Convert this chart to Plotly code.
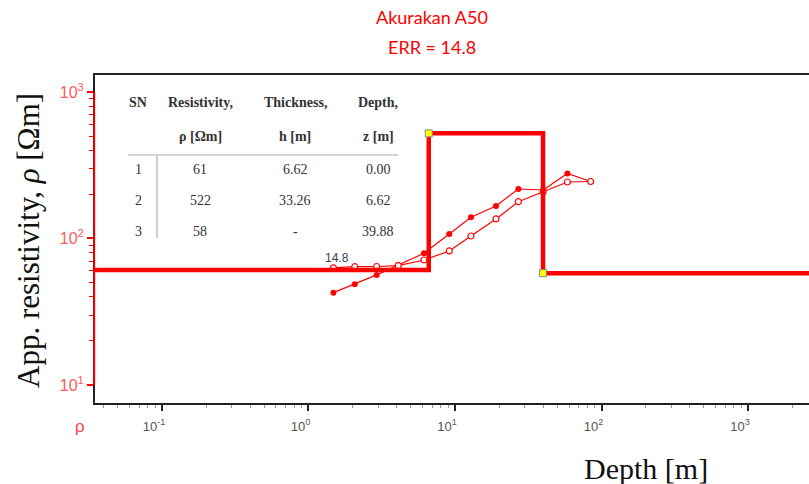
import math
import plotly.graph_objects as go

# ---------------- data ----------------
layer_sn = [1, 2, 3]
layer_rho = [61, 522, 58]
layer_thick = ["6.62", "33.26", "-"]
layer_depth = [0.00, 6.62, 39.88]

ab2 = [1.48, 2.07, 2.92, 4.1, 6.14, 9.14, 12.85, 19.05, 27.06, 40.0, 58.5, 84.3]
rho_obs = [42.7, 48.7, 56.4, 65.9, 79.2, 107.4, 139.6, 166.7, 217.7, 214.3, 277.7, 245]
rho_calc = [63, 64.2, 64.4, 65.2, 71.3, 82.2, 104, 135.9, 178.3, 207.6, 243, 245]

err = 14.8
title_text = "Akurakan A50"
x_tickvals = [0.1, 1, 10, 100, 1000]
y_tickvals = [10, 100, 1000]

def pow_label(v):
    return f"10<sup>{int(round(math.log10(v)))}</sup>"

def minor_vals(decades):
    return [m * d for d in decades for m in range(2, 10)]

RED = "#ff0000"

# model step curve built from layers
x_left, x_right = 0.01, 1e4
mx, my = [x_left], [layer_rho[0]]
for i in range(1, len(layer_rho)):
    mx += [layer_depth[i], layer_depth[i]]
    my += [layer_rho[i - 1], layer_rho[i]]
mx.append(x_right)
my.append(layer_rho[-1])

# ---------------- layout helpers (pixel -> paper) ----------------
W, H = 809, 484
L, R, T, B = 95, 809, 75, 403
def px(x):
    return (x - L) / (R - L)
def py(y):
    return (B - y) / (B - T)

def ann(fig, x, y, text, font, **kw):
    fig.add_annotation(x=px(x), y=py(y), xref="paper", yref="paper", text=text,
                       showarrow=False, xanchor=kw.pop("xanchor", "center"),
                       yanchor=kw.pop("yanchor", "middle"), font=font, **kw)

fig = go.Figure()

fig.add_trace(go.Scatter(x=ab2, y=rho_obs, mode="lines+markers",
                         line=dict(color=RED, width=1.2),
                         marker=dict(symbol="circle", size=6, color=RED),
                         showlegend=False))
fig.add_trace(go.Scatter(x=ab2, y=rho_calc, mode="lines+markers",
                         line=dict(color=RED, width=1.2),
                         marker=dict(symbol="circle", size=6, color="white",
                                     line=dict(color=RED, width=1.2)),
                         showlegend=False))
fig.add_trace(go.Scatter(x=mx, y=my, mode="lines",
                         line=dict(color=RED, width=4.5),
                         showlegend=False))
fig.add_trace(go.Scatter(x=layer_depth[1:], y=layer_rho[1:], mode="markers",
                         marker=dict(symbol="square", size=7, color="#ffff00",
                                     line=dict(color="#888888", width=1)),
                         showlegend=False))

fig.update_layout(
    width=W, height=H,
    margin=dict(l=L, r=W - R, t=T, b=H - B),
    plot_bgcolor="white", paper_bgcolor="white",
    xaxis=dict(type="log", range=[-1.457, 3.416], showgrid=False, zeroline=False,
               showline=True, linecolor="#222222", linewidth=2, mirror=True,
               tickvals=x_tickvals, ticktext=[pow_label(v) for v in x_tickvals],
               ticks="outside", ticklen=6, tickwidth=1.5, tickcolor="#222222",
               ticklabelstandoff=4, ticklabelshift=-8,
               minor=dict(ticks="outside", ticklen=3, tickwidth=1, tickcolor="#999999",
                          tickvals=minor_vals([0.01, 0.1, 1, 10, 100, 1000]),
                          showgrid=False),
               tickfont=dict(family="Liberation Sans", size=13, color="#555555")),
    yaxis=dict(type="log", range=[0.877, 3.116], showgrid=False, zeroline=False,
               showline=True, linecolor="#222222", linewidth=2, mirror=False,
               tickvals=y_tickvals, ticktext=[pow_label(v) for v in y_tickvals],
               ticks="outside", ticklen=6, tickwidth=1.5, tickcolor=RED,
               minor=dict(ticks="outside", ticklen=4, tickwidth=1.2, tickcolor=RED,
                          tickvals=minor_vals([10, 100]),
                          showgrid=False),
               tickfont=dict(family="Liberation Sans", size=16, color="#ff5a5a")),
)

# red segment of the y axis (10 .. 1000)
fig.add_shape(type="line", xref="paper", yref="y", x0=-0.001, x1=-0.001,
              y0=y_tickvals[0], y1=y_tickvals[-1],
              line=dict(color=RED, width=1.8), layer="above")

# titles
ann(fig, 432, 17, title_text, dict(family="Lato", size=18, color=RED))
ann(fig, 432, 47, f"ERR = {err}", dict(family="Lato", size=18, color=RED))
ann(fig, 28, 241, "App. resistivity, <i>ρ</i> [Ωm]",
    dict(family="Liberation Serif", size=31, color="#111111"), textangle=-90)
ann(fig, 646, 468, "Depth [m]", dict(family="Liberation Serif", size=30, color="#111111"))
ann(fig, 80, 426, "ρ", dict(family="Liberation Sans", size=17, color="#ff4040"))
ann(fig, 337, 258, f"{err}", dict(family="Liberation Sans", size=12, color="#3a3a55"))

# table of layer parameters
col_x = [138, 200, 295, 378]
hdr1 = ["SN", "Resistivity,", "Thickness,", "Depth,"]
hdr2 = ["", "ρ [Ωm]", "h [m]", "z [m]"]
tfont = dict(family="Liberation Serif", size=14, color="#333333")
for cx, t1, t2 in zip(col_x, hdr1, hdr2):
    ann(fig, cx, 103, f"<b>{t1}</b>", tfont)
    if t2:
        ann(fig, cx, 136, f"<b>{t2}</b>", tfont)
row_y = [169, 200, 231]
for i, ry in enumerate(row_y):
    vals = [str(layer_sn[i]), str(layer_rho[i]), layer_thick[i], f"{layer_depth[i]:.2f}"]
    for cx, v in zip(col_x, vals):
        ann(fig, cx, ry, v, tfont)
fig.add_shape(type="line", xref="paper", yref="paper", x0=px(128), x1=px(398),
              y0=py(155), y1=py(155), line=dict(color="#aaaaaa", width=1.2))
fig.add_shape(type="line", xref="paper", yref="paper", x0=px(157), x1=px(157),
              y0=py(156), y1=py(238), line=dict(color="#aaaaaa", width=1.2))

fig.write_html("out.html", config={"displayModeBar": False},
               post_script="document.body.style.margin='0px';")
